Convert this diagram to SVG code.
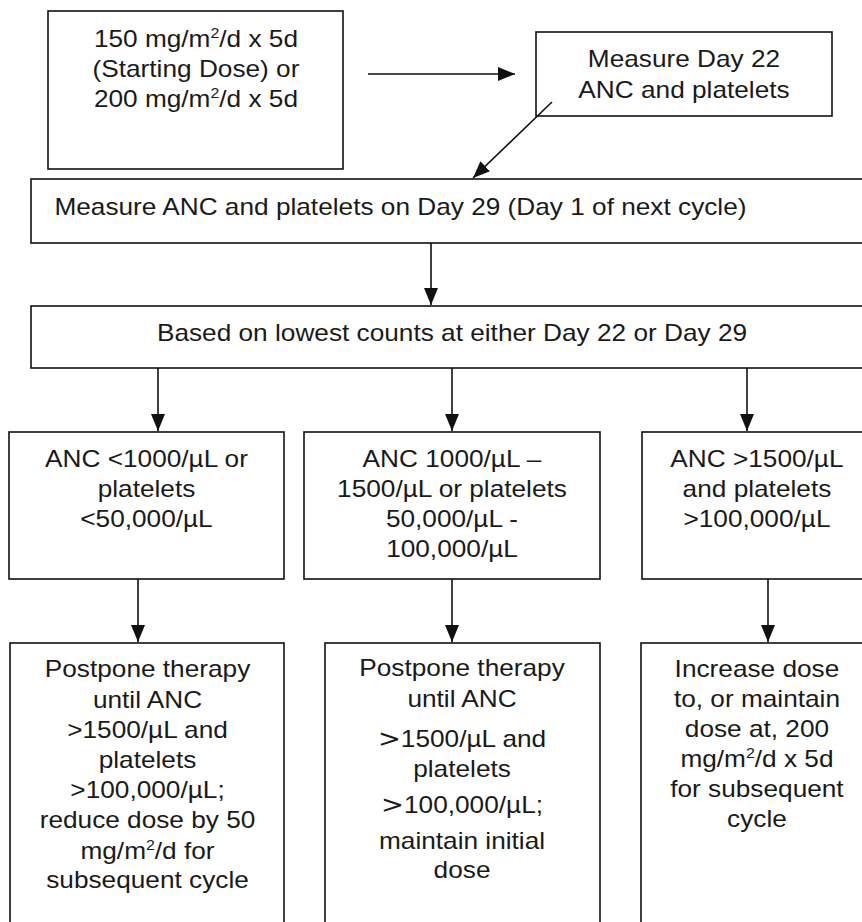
<svg xmlns="http://www.w3.org/2000/svg" width="862" height="922" viewBox="0 0 862 922">
<style>
.box{fill:#fff;stroke:#111;stroke-width:1.6}
.t{font-family:"Liberation Sans",Arial,sans-serif;font-size:23px;fill:#1a1a1a;text-anchor:middle}
.s{font-size:14px}
.con line{stroke:#111;stroke-width:1.6;marker-end:url(#ah)}
</style>
<defs>
<marker id="ah" viewBox="0 0 17 14" refX="17" refY="7" markerWidth="17" markerHeight="14" markerUnits="userSpaceOnUse" orient="auto">
<path d="M0,0 L17,7 L0,14 z" fill="#111"/>
</marker>
</defs>
<rect width="862" height="922" fill="#fff"/>

<g id="start">
<rect class="box" x="48" y="11" width="295" height="158"/>
<g transform="matrix(1.14 0 0 1 0 0)">
<text class="t" x="171.9" y="47">150 mg/m<tspan class="s" dy="-9">2</tspan><tspan dy="9">/d x 5d</tspan></text>
<text class="t" x="171.9" y="77">(Starting Dose) or</text>
<text class="t" x="171.9" y="107">200 mg/m<tspan class="s" dy="-9">2</tspan><tspan dy="9">/d x 5d</tspan></text>
</g>
</g>

<g id="day22">
<rect class="box" x="536" y="32" width="296" height="84"/>
<g transform="matrix(1.14 0 0 1 0 0)">
<text class="t" x="600" y="67">Measure Day 22</text>
<text class="t" x="600" y="98">ANC and platelets</text>
</g>
</g>

<g id="day29">
<rect class="box" x="31" y="179" width="850" height="64"/>
<g transform="matrix(1.14 0 0 1 0 0)">
<text class="t" x="351.3" y="215">Measure ANC and platelets on Day 29 (Day 1 of next cycle)</text>
</g>
</g>

<g id="lowest">
<rect class="box" x="31" y="306" width="850" height="62"/>
<g transform="matrix(1.14 0 0 1 0 0)">
<text class="t" x="396.5" y="341">Based on lowest counts at either Day 22 or Day 29</text>
</g>
</g>

<g id="low">
<rect class="box" x="9" y="432" width="275" height="147"/>
<g transform="matrix(1.14 0 0 1 0 0)">
<text class="t" x="128.5" y="467">ANC &lt;1000/µL or</text>
<text class="t" x="128.5" y="497">platelets</text>
<text class="t" x="128.5" y="527">&lt;50,000/µL</text>
</g>
</g>

<g id="mid">
<rect class="box" x="304" y="432" width="296" height="147"/>
<g transform="matrix(1.14 0 0 1 0 0)">
<text class="t" x="396.5" y="467">ANC 1000/µL –</text>
<text class="t" x="396.5" y="497">1500/µL or platelets</text>
<text class="t" x="396.5" y="527">50,000/µL -</text>
<text class="t" x="396.5" y="557">100,000/µL</text>
</g>
</g>

<g id="high">
<rect class="box" x="642" y="432" width="240" height="147"/>
<g transform="matrix(1.14 0 0 1 0 0)">
<text class="t" x="664" y="467">ANC &gt;1500/µL</text>
<text class="t" x="664" y="497">and platelets</text>
<text class="t" x="664" y="527">&gt;100,000/µL</text>
</g>
</g>

<g id="reduce">
<rect class="box" x="10" y="643" width="274" height="300"/>
<g transform="matrix(1.14 0 0 1 0 0)">
<text class="t" x="129.4" y="677">Postpone therapy</text>
<text class="t" x="129.4" y="708">until ANC</text>
<text class="t" x="129.4" y="738">&gt;1500/µL and</text>
<text class="t" x="129.4" y="768">platelets</text>
<text class="t" x="129.4" y="798">&gt;100,000/µL;</text>
<text class="t" x="129.4" y="828">reduce dose by 50</text>
<text class="t" x="129.4" y="859">mg/m<tspan class="s" dy="-9">2</tspan><tspan dy="9">/d for</tspan></text>
<text class="t" x="129.4" y="888">subsequent cycle</text>
</g>
</g>

<g id="maintain">
<rect class="box" x="325" y="643" width="275" height="300"/>
<g transform="matrix(1.14 0 0 1 0 0)">
<text class="t" x="405.3" y="676">Postpone therapy</text>
<text class="t" x="405.3" y="707">until ANC</text>
<text class="t" x="405.3" y="747"><tspan font-family="'DejaVu Sans',sans-serif" font-size="24">&gt;</tspan>1500/µL and</text>
<text class="t" x="405.3" y="777">platelets</text>
<text class="t" x="405.3" y="813"><tspan font-family="'DejaVu Sans',sans-serif" font-size="24">&gt;</tspan>100,000/µL;</text>
<text class="t" x="405.3" y="849">maintain initial</text>
<text class="t" x="405.3" y="878">dose</text>
</g>
</g>

<g id="increase">
<rect class="box" x="641" y="643" width="240" height="300"/>
<g transform="matrix(1.14 0 0 1 0 0)">
<text class="t" x="664" y="677">Increase dose</text>
<text class="t" x="664" y="707">to, or maintain</text>
<text class="t" x="664" y="737">dose at, 200</text>
<text class="t" x="664" y="767">mg/m<tspan class="s" dy="-9">2</tspan><tspan dy="9">/d x 5d</tspan></text>
<text class="t" x="664" y="797">for subsequent</text>
<text class="t" x="664" y="827">cycle</text>
</g>
</g>

<g id="connectors" class="con">
<line x1="368" y1="74" x2="515" y2="74"/>
<line x1="552" y1="102" x2="473" y2="178"/>
<line x1="431" y1="243" x2="431" y2="305"/>
<line x1="158" y1="368" x2="158" y2="431"/>
<line x1="452" y1="368" x2="452" y2="431"/>
<line x1="747" y1="368" x2="747" y2="431"/>
<line x1="138" y1="579" x2="138" y2="642"/>
<line x1="452" y1="579" x2="452" y2="642"/>
<line x1="768" y1="579" x2="768" y2="642"/>
</g>
</svg>
